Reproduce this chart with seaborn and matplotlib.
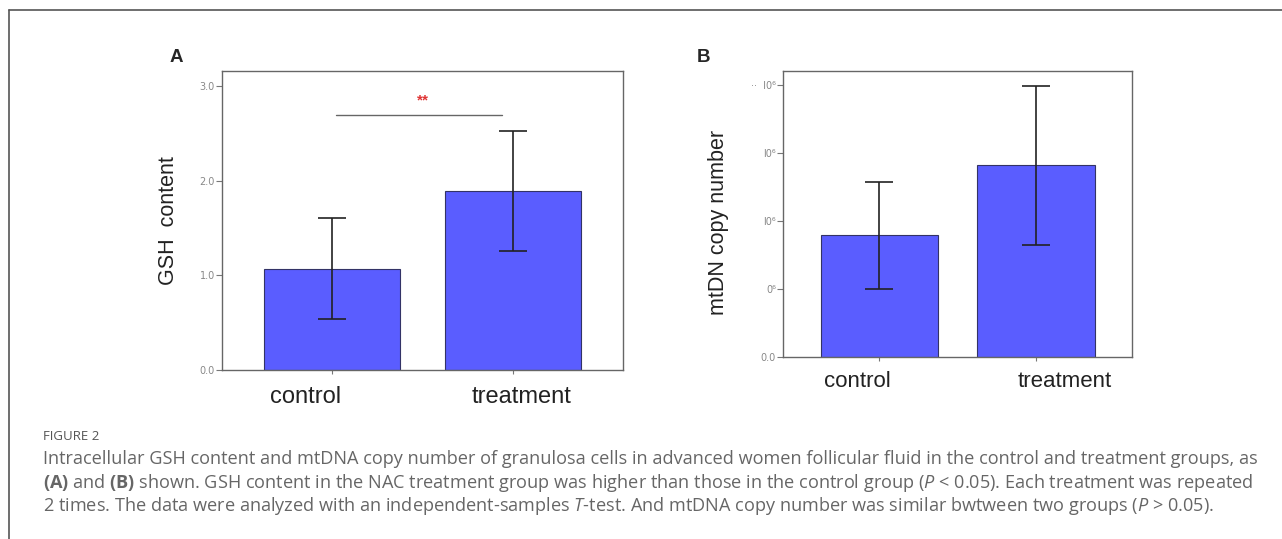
import numpy as np
import pandas as pd
import matplotlib
matplotlib.use("Agg")
import matplotlib.pyplot as plt
from matplotlib.lines import Line2D
import seaborn as sns

# data
groups = ["control", "treatment"]
gsh_mean = [1.07, 1.89]
gsh_err = [0.535, 0.635]
mtdna_mean = [1.79, 2.82]
mtdna_err = [0.79, 1.17]

gsh_ticks = [0, 1, 2, 3]
gsh_ticklabels = ["0.0", "1.0", "2.0", "3.0"]
mtdna_ticks = [0, 1, 2, 3, 4]
mtdna_ticklabels = ["0.0", "0⁶", "l0⁶", "l0⁶", "··  l0⁶"]

caption_head = "FIGURE 2"
caption_lines = [
    "Intracellular GSH content and mtDNA copy number of granulosa cells in advanced women follicular fluid in the control and treatment groups, as",
    r"$\mathbf{(A)}$ and $\mathbf{(B)}$ shown. GSH content in the NAC treatment group was higher than those in the control group ($\mathit{P}$ < 0.05). Each treatment was repeated",
    r"2 times. The data were analyzed with an independent-samples $\mathit{T}$-test. And mtDNA copy number was similar bwtween two groups ($\mathit{P}$ > 0.05).",
]

sns.set_style("white")
plt.rcParams["font.family"] = ["Liberation Sans", "DejaVu Sans"]
plt.rcParams["mathtext.fontset"] = "custom"
plt.rcParams["mathtext.rm"] = "Open Sans"
plt.rcParams["mathtext.it"] = "Open Sans:italic"
plt.rcParams["mathtext.bf"] = "Open Sans:bold"

bar_color = "#5a5dff"
W, H = 1282, 539

fig = plt.figure(figsize=(W / 100, H / 100), dpi=100)
fig.patch.set_facecolor("white")

def px_axes(left, top, right, bottom):
    return fig.add_axes([left / W, 1 - bottom / H, (right - left) / W, (bottom - top) / H])

def style_axes(ax):
    for s in ax.spines.values():
        s.set_color("#666666")
        s.set_linewidth(1.0)
        s.set_visible(True)
    ax.tick_params(axis="y", left=True, length=4, width=0.8, color="#777777",
                   labelsize=7, labelcolor="#888888", pad=1)
    for t in ax.get_yticklabels():
        t.set_family("DejaVu Sans")
    ax.tick_params(axis="x", bottom=True, length=3, width=0.8, color="#777777",
                   labelbottom=False)
    ax.set_xlabel("")

# ---- panel A
df_a = pd.DataFrame({"group": groups, "value": gsh_mean})
ax1 = px_axes(222, 71, 623, 370)
sns.barplot(data=df_a, x="group", y="value", ax=ax1, color=bar_color, saturation=1,
            width=0.75, edgecolor="#333366", linewidth=0.8, errorbar=None)
ax1.errorbar(range(len(groups)), gsh_mean, yerr=gsh_err, fmt="none", ecolor="#222222",
             elinewidth=1.2, capsize=10, capthick=1.2)
ax1.set_xlim(-0.61, 1.61)
ax1.set_ylim(0, 3.16)
ax1.set_yticks(gsh_ticks)
ax1.set_yticklabels(gsh_ticklabels)
style_axes(ax1)
ax1.set_ylabel("GSH  content", fontsize=15.5, color="#222222", labelpad=15)
ax1.text(-0.145, -0.09, groups[0], transform=ax1.get_xaxis_transform(), ha="center",
         va="center", fontsize=17, color="#222222")
ax1.text(1.05, -0.09, groups[1], transform=ax1.get_xaxis_transform(), ha="center",
         va="center", fontsize=17, color="#222222")
ax1.plot([0.02, 0.94], [2.70, 2.70], color="#666666", lw=1.0)
ax1.text(0.5, 2.85, "**", color="#e03535", fontsize=11, fontweight="bold",
         ha="center", va="center")

# ---- panel B
df_b = pd.DataFrame({"group": groups, "value": mtdna_mean})
ax2 = px_axes(783, 71, 1132, 357)
sns.barplot(data=df_b, x="group", y="value", ax=ax2, color=bar_color, saturation=1,
            width=0.75, edgecolor="#333366", linewidth=0.8, errorbar=None)
ax2.errorbar(range(len(groups)), mtdna_mean, yerr=mtdna_err, fmt="none", ecolor="#222222",
             elinewidth=1.2, capsize=10, capthick=1.2)
ax2.set_xlim(-0.615, 1.61)
ax2.set_ylim(0, 4.21)
ax2.set_yticks(mtdna_ticks)
ax2.set_yticklabels(mtdna_ticklabels)
style_axes(ax2)
ax2.set_ylabel("mtDN copy number", fontsize=15.5, color="#222222")
ax2.yaxis.set_label_coords(-0.155, 0.47)
ax2.text(-0.142, -0.087, groups[0], transform=ax2.get_xaxis_transform(), ha="center",
         va="center", fontsize=16, color="#222222")
ax2.text(1.18, -0.087, groups[1], transform=ax2.get_xaxis_transform(), ha="center",
         va="center", fontsize=16, color="#222222")

# panel letters
fig.text(176 / W, 1 - 58 / H, "A", fontsize=13.5, fontweight="bold", ha="center", va="center")
fig.text(704 / W, 1 - 58 / H, "B", fontsize=13.5, fontweight="bold", ha="center", va="center")

# frame
fig.add_artist(Line2D([9 / W, 1], [1 - 10 / H, 1 - 10 / H], color="#555555", lw=1.2))
fig.add_artist(Line2D([9 / W, 9 / W], [0, 1 - 10 / H], color="#555555", lw=1.2))

# caption
fig.text(43 / W, 1 - 437 / H, caption_head, fontsize=9.5, color="#555555",
         family="Open Sans", va="center")
for i, line in enumerate(caption_lines):
    fig.text(43 / W, 1 - (459 + 23.5 * i) / H, line, fontsize=13.1, color="#666666",
             family="Open Sans", va="center")

fig.savefig("out.png", dpi=100)
